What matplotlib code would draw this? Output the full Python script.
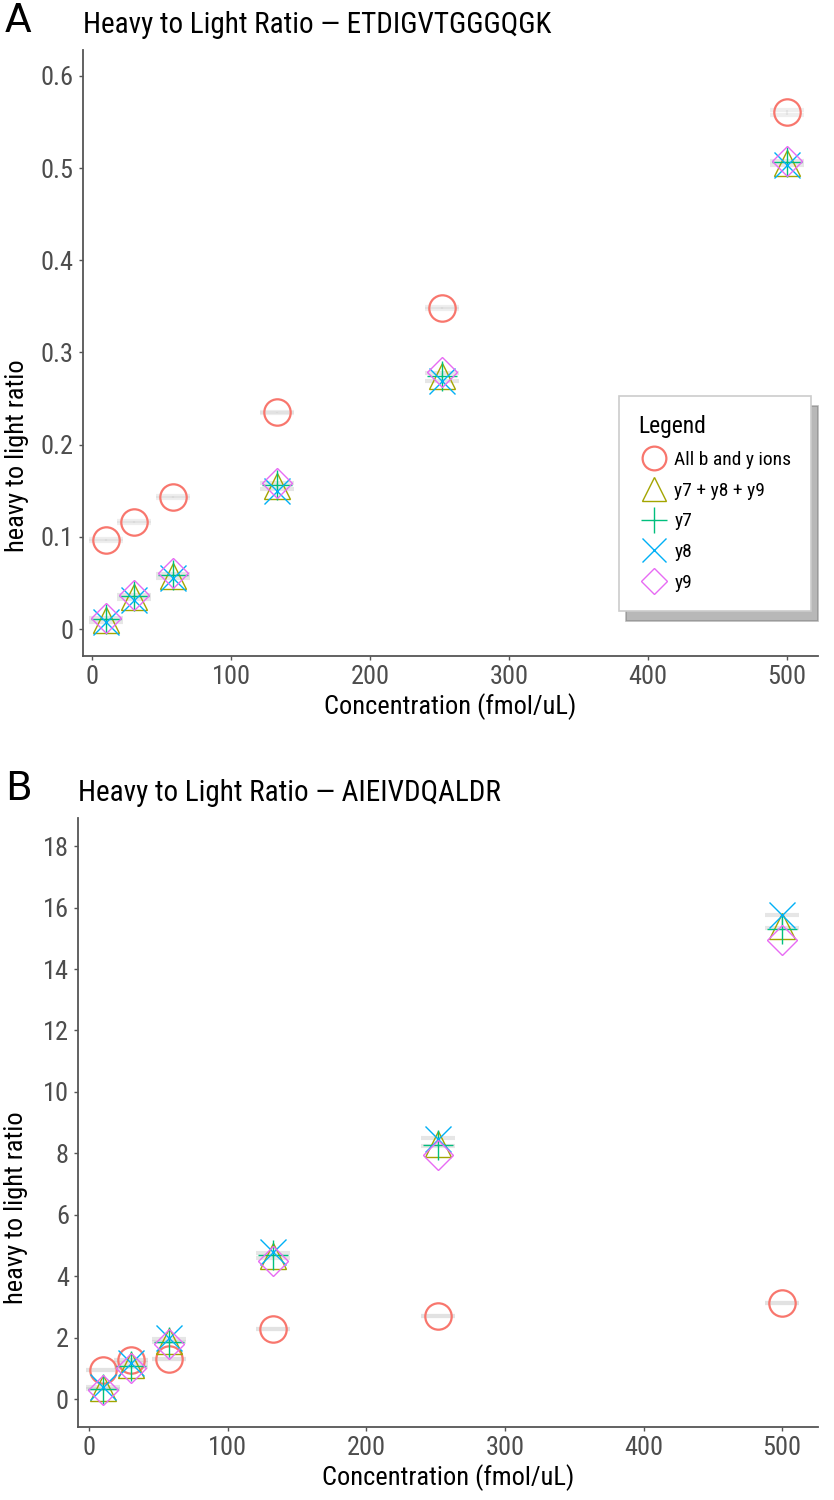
import matplotlib
matplotlib.use("Agg")
import matplotlib.pyplot as plt
from matplotlib import font_manager

# pick a narrow family if one is installed
installed = {f.name for f in font_manager.fontManager.ttflist}
narrow = [f for f in ['Liberation Sans Narrow', 'Roboto Condensed', 'Open Sans Condensed',
                      'Lato', 'Roboto'] if f in installed]
plt.rcParams['font.family'] = narrow[:1] + ['DejaVu Sans']

# concentrations (fmol/uL)
conc = [10, 30, 58, 133, 252, 500]

series_names = ['All b and y ions', 'y7 + y8 + y9', 'y7', 'y8', 'y9']

# panel A: ETDIGVTGGGQGK
a_all = [0.097, 0.116, 0.143, 0.235, 0.348, 0.561]
a_sum = [0.010, 0.035, 0.058, 0.155, 0.274, 0.505]
a_y7 = [0.011, 0.036, 0.059, 0.156, 0.275, 0.506]
a_y8 = [0.008, 0.032, 0.055, 0.150, 0.269, 0.503]
a_y9 = [0.012, 0.037, 0.061, 0.158, 0.279, 0.508]
a_all_lo = [0.096, 0.115, 0.142, 0.234, 0.347, 0.557]
a_all_hi = [0.098, 0.117, 0.144, 0.236, 0.349, 0.563]
a_sum_lo = [0.008, 0.033, 0.055, 0.152, 0.269, 0.503]
a_sum_hi = [0.012, 0.037, 0.060, 0.158, 0.278, 0.508]

# panel B: AIEIVDQALDR
b_all = [0.94, 1.27, 1.30, 2.28, 2.70, 3.13]
b_sum = [0.36, 1.10, 1.89, 4.65, 8.30, 15.40]
b_y7 = [0.34, 1.08, 1.85, 4.70, 8.27, 15.30]
b_y8 = [0.40, 1.18, 1.98, 4.78, 8.47, 15.77]
b_y9 = [0.30, 1.00, 1.78, 4.50, 7.95, 14.95]
b_all_lo = [0.93, 1.26, 1.29, 2.27, 2.69, 3.12]
b_all_hi = [0.95, 1.28, 1.31, 2.29, 2.71, 3.14]
b_sum_lo = [0.32, 1.04, 1.84, 4.60, 8.25, 15.35]
b_sum_hi = [0.40, 1.16, 1.96, 4.75, 8.50, 15.77]

colors = ['#F8766D', '#A3A500', '#00BF7D', '#00B0F6', '#E76BF3']
markers = ['o', '^', '+', 'x', 'D']
msizes = [19, 19, 21, 19, 15]
mwidths = [1.6, 1.0, 1.0, 1.0, 1.0]

fig = plt.figure(figsize=(8.34, 15), dpi=100)
ax_a = fig.add_axes([0.0995, 0.5627, 0.881, 0.404])
ax_b = fig.add_axes([0.0935, 0.0487, 0.8875, 0.4060])


def draw_panel(ax, data, errs, yticks, ylim, xlim, title, letter, letter_y, ylab_x, ylab_y):
    for (lo, hi), a in zip(errs, [0.3, 0.45]):
        mid = [(l + h) / 2 for l, h in zip(lo, hi)]
        low = [m - l for m, l in zip(mid, lo)]
        high = [h - m for m, h in zip(mid, hi)]
        ax.errorbar(conc, mid, yerr=[low, high], fmt='none', ecolor='#c8c8c8',
                    alpha=a, elinewidth=1.5, capsize=12, capthick=3, zorder=1)
    for vals, name, c, m, s, w in zip(data, series_names, colors, markers, msizes, mwidths):
        ax.plot(conc, vals, linestyle='none', marker=m, markersize=s,
                markerfacecolor='none', markeredgecolor=c, markeredgewidth=w,
                label=name, zorder=3)
    ax.set_xlim(*xlim)
    ax.set_ylim(*ylim)
    ax.set_xticks([0, 100, 200, 300, 400, 500])
    ax.set_yticks(yticks)
    ax.set_yticklabels([('%g' % t) for t in yticks])
    for sp in ['top', 'right']:
        ax.spines[sp].set_visible(False)
    for sp in ['left', 'bottom']:
        ax.spines[sp].set_color('#555555')
        ax.spines[sp].set_linewidth(1.3)
    ax.tick_params(colors='#555555', labelcolor='#4d4d4d', labelsize=19,
                   length=3, width=1)
    ax.set_xlabel('Concentration (fmol/uL)', fontsize=19, color='black', labelpad=3)
    ax.set_ylabel('heavy to light ratio', fontsize=19, color='black')
    ax.yaxis.set_label_coords(ylab_x, ylab_y)
    ax.set_title(title, loc='left', fontsize=21, color='black', pad=12)
    fig.text(0.006, letter_y, letter, fontsize=28, color='black', va='top',
             family=['DejaVu Sans'])


draw_panel(ax_a, [a_all, a_sum, a_y7, a_y8, a_y9],
           [(a_all_lo, a_all_hi), (a_sum_lo, a_sum_hi)],
           [0, 0.1, 0.2, 0.3, 0.4, 0.5, 0.6], (-0.029, 0.628), (-6.5, 522),
           'Heavy to Light Ratio \u2014 ETDIGVTGGGQGK', 'A', 0.999, -0.074, 0.33)
draw_panel(ax_b, [b_all, b_sum, b_y7, b_y8, b_y9],
           [(b_all_lo, b_all_hi), (b_sum_lo, b_sum_hi)],
           list(range(0, 19, 2)), (-0.91, 18.92), (-8, 526),
           'Heavy to Light Ratio \u2014 AIEIVDQALDR', 'B', 0.487, -0.067, 0.36)

leg = ax_a.legend(loc='upper left', bbox_to_anchor=(0.742, 0.736),
                  bbox_transform=fig.transFigure, title='Legend',
                  fontsize=14, title_fontsize=17, frameon=True, fancybox=False,
                  edgecolor='#cccccc', borderpad=1.0, labelspacing=0.65,
                  handletextpad=0.25, handlelength=1.6, markerscale=0.9,
                  borderaxespad=0,
                  shadow={'ox': 5, 'oy': -7, 'color': '0.45', 'alpha': 0.5})
leg._legend_box.align = 'left'
leg.get_frame().set_linewidth(1.2)

fig.savefig('out.png', dpi=100)
